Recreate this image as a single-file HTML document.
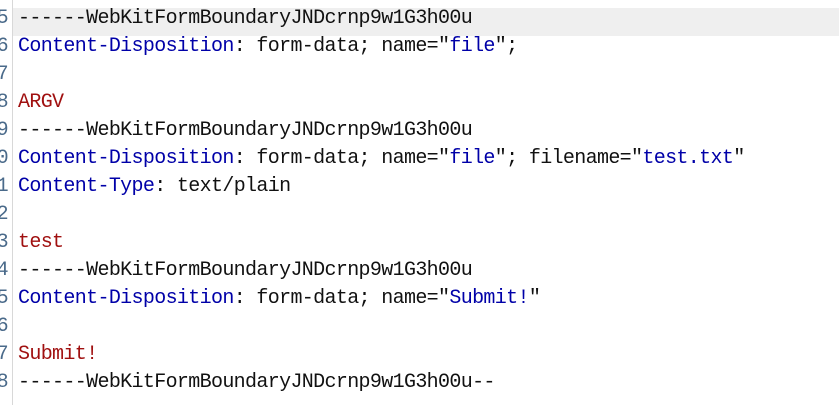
<!DOCTYPE html>
<html><head><meta charset="utf-8"><style>
body{margin:0;width:839px;height:405px;overflow:hidden;background:#fff;position:relative;font-family:"Liberation Mono","Noto Sans CJK SC",monospace;font-size:20px;letter-spacing:-0.65px}
.sep{position:absolute;left:12px;top:0;width:1px;height:405px;background:#d8d8d8}
.hl{position:absolute;left:13px;top:8px;width:826px;height:28px;background:#efefef}
.r{position:absolute;left:18px;height:28px;line-height:28px;white-space:pre;color:#111}
.n{position:absolute;left:-6px;height:28px;line-height:28px;color:#4a6a8a;width:14px;text-align:right}
.b{color:#0000a8}.d{color:#a01010}
</style></head><body>
<div class="hl"></div><div class="sep"></div>
<div class="n" style="top:5px">5</div><div class="r" style="top:5px">------WebKitFormBoundaryJNDcrnp9w1G3h00u</div>
<div class="n" style="top:33px">6</div><div class="r" style="top:33px"><span class="b">Content-Disposition</span>: form-data; name="<span class="b">file</span>";</div>
<div class="n" style="top:61px">7</div>
<div class="n" style="top:89px">8</div><div class="r d" style="top:89px">ARGV</div>
<div class="n" style="top:117px">9</div><div class="r" style="top:117px">------WebKitFormBoundaryJNDcrnp9w1G3h00u</div>
<div class="n" style="top:145px">0</div><div class="r" style="top:145px"><span class="b">Content-Disposition</span>: form-data; name="<span class="b">file</span>"; filename="<span class="b">test.txt</span>"</div>
<div class="n" style="top:173px">1</div><div class="r" style="top:173px"><span class="b">Content-Type</span>: text/plain</div>
<div class="n" style="top:201px">2</div>
<div class="n" style="top:229px">3</div><div class="r d" style="top:229px">test</div>
<div class="n" style="top:257px">4</div><div class="r" style="top:257px">------WebKitFormBoundaryJNDcrnp9w1G3h00u</div>
<div class="n" style="top:285px">5</div><div class="r" style="top:285px"><span class="b">Content-Disposition</span>: form-data; name="<span class="b">Submit!</span>"</div>
<div class="n" style="top:313px">6</div>
<div class="n" style="top:341px">7</div><div class="r d" style="top:341px">Submit!</div>
<div class="n" style="top:369px">8</div><div class="r" style="top:369px">------WebKitFormBoundaryJNDcrnp9w1G3h00u--</div>
</body></html>
